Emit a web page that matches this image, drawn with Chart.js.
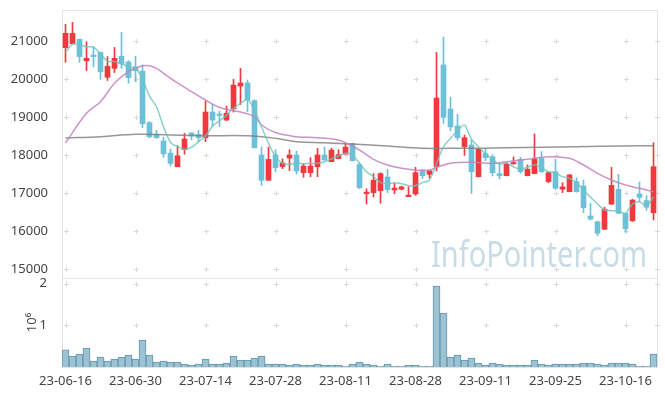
<!DOCTYPE html>
<html>
<head>
<meta charset="utf-8">
<script src="https://cdn.jsdelivr.net/npm/chart.js@4.4.1/dist/chart.umd.min.js"></script>
<style>
  html, body { margin: 0; padding: 0; background: #fff; }
  #wrap { width: 665px; height: 396px; }
</style>
</head>
<body>
<div id="wrap"><canvas id="chart"></canvas></div>
<script>
// trading days
const dates = [
  '23-06-16','23-06-19','23-06-20','23-06-21','23-06-22','23-06-23','23-06-26','23-06-27','23-06-28','23-06-29','23-06-30',
  '23-07-03','23-07-04','23-07-05','23-07-06','23-07-07','23-07-10','23-07-11','23-07-12','23-07-13','23-07-14',
  '23-07-17','23-07-18','23-07-19','23-07-20','23-07-21','23-07-24','23-07-25','23-07-26','23-07-27','23-07-28','23-07-31',
  '23-08-01','23-08-02','23-08-03','23-08-04','23-08-07','23-08-08','23-08-09','23-08-10','23-08-11','23-08-14',
  '23-08-16','23-08-17','23-08-18','23-08-21','23-08-22','23-08-23','23-08-24','23-08-25','23-08-28','23-08-29','23-08-30','23-08-31',
  '23-09-01','23-09-04','23-09-05','23-09-06','23-09-07','23-09-08','23-09-11','23-09-12','23-09-13','23-09-14','23-09-15',
  '23-09-18','23-09-19','23-09-20','23-09-21','23-09-22','23-09-25','23-09-26','23-09-27',
  '23-10-04','23-10-05','23-10-06','23-10-10','23-10-11','23-10-12','23-10-13','23-10-16','23-10-17','23-10-18','23-10-19','23-10-20'
]

const opens  = [20824,20930,21045,20480,20600,20700,20045,20280,20600,20450,20320,20210,18850,18545,18370,18050,17690,18140,18580,18545,
                18455,19130,19050,18920,19220,19815,19895,19430,18000,17335,18000,17695,17920,18000,17535,17535,17690,18000,17825,17905,
                18025,18300,17745,16985,17010,17063,17420,17080,17100,16905,16975,17570,17490,17690,20370,19210,18765,18220,18265,17430,
                18035,17955,17510,17455,17765,17885,17455,17510,17910,17300,17560,17100,17035,17300,17185,16395,16245,16045,16705,17095,
                16465,16270,16975,16800,16480]
const closes = [21203,21200,20590,20545,20590,20190,20335,20545,20395,20035,20220,18820,18480,18455,18030,17780,17980,18420,18500,18455,
                19130,18920,19040,19100,19840,19895,19450,18190,17335,17885,17665,17790,18000,17580,17710,17710,18000,17870,18130,18010,
                18210,17850,17140,17025,17335,17510,17090,17130,17160,16945,17535,17455,17580,19500,18990,18740,18455,18455,17560,18160,
                17930,17535,17455,17765,17800,17560,17625,17895,17560,17535,17125,17160,17475,17035,16615,16315,15940,16570,17200,16465,
                16060,16815,16885,16625,17690]
const highs  = [21440,21490,21050,20980,20850,20710,20590,20830,21230,20480,20600,20370,18880,18650,18470,18160,18245,18570,18590,18650,
                19420,19330,19150,19290,19990,20280,19975,19450,18210,18210,18140,17900,18140,18100,17780,17930,18175,18210,18180,18140,
                18310,18310,17800,17110,17510,17535,17620,17260,17180,17165,17675,17620,17590,20700,21100,19520,19070,18525,18395,18170,
                18150,18010,17780,17800,17950,17940,17740,18555,18090,17560,17885,17270,17490,17400,17340,16730,16260,16625,17675,17490,
                16470,16830,17290,16930,18325]
const lows   = [20440,20920,20440,20220,20320,19990,19960,20170,20280,19890,19930,18720,18450,18440,17940,17710,17690,18020,18400,18340,
                18350,18760,18750,18900,19130,19330,19140,18190,17200,17330,17560,17640,17590,17500,17415,17430,17430,17860,17820,17900,
                18020,17840,17110,16710,16895,16730,17010,16980,17080,16900,16940,17380,17390,17580,18830,18640,18395,17990,16990,17420,
                17850,17450,17370,17450,17760,17520,17450,17500,17540,17270,17095,17010,17030,17020,16480,16290,15875,16040,16700,16460,
                15965,16250,16770,16540,16290]

const volumes = [410000,264000,312000,456000,144000,240000,144000,192000,240000,288000,192000,648000,288000,120000,144000,120000,
                 120000,72000,48000,72000,192000,72000,72000,96000,264000,168000,168000,216000,264000,72000,72000,72000,48000,72000,
                 48000,48000,72000,48000,48000,48000,24000,72000,120000,72000,48000,24000,72000,24000,24000,48000,48000,24000,24000,
                 1944000,1296000,240000,288000,168000,216000,96000,48000,96000,72000,48000,48000,48000,48000,168000,72000,48000,72000,
                 72000,72000,72000,96000,96000,72000,48000,96000,96000,96000,72000,24000,24000,312000]

// moving averages
const ma5 = [20700,20920,20895,20850,20842,20660,20470,20460,20400,20320,20280,20000,19550,19271,18745,18330,18220,18150,18200,18350,
             18500,18760,18900,19050,19229,19360,19465,19184,18745,18307,17956,17780,17755,17780,17770,17780,17780,17824,17895,17974,
             18044,18000,17780,17561,17430,17272,17245,17272,17245,17193,17193,17272,17342,17780,18219,18440,18640,18790,18412,18219,
             18026,17886,17755,17790,17692,17623,17676,17745,17667,17561,17534,17430,17386,17272,17079,16887,16710,16553,16535,16527,
             16466,16710,16771,16658,16903]
const ma20Idx = [0,3,5,7,9,10,11,12,13,14,15,16,18,20,22,25,27,28,30,33,36,39,40,42,44,46,48,50,52,53,55,58,61,63,66,69,72,74,76,78,80,82,84]
const ma20Val = [18316,19097,19403,19887,20192,20282,20350,20350,20282,20150,20018,19900,19666,19447,19250,19130,19008,18790,18590,18482,
                 18455,18395,18320,18132,17886,17737,17650,17605,17605,17676,17780,17807,17780,17824,17886,17956,17912,17737,17518,17342,
                 17210,17123,17035]
const ma120Idx = [0,5,10,15,20,26,30,33,37,41,46,51,55,59,63,73,80,84]
const ma120Val = [18447,18482,18545,18526,18508,18505,18440,18350,18320,18290,18237,18176,18176,18176,18193,18219,18237,18246]

const xTicks = [0,10,20,30,40,50,60,70,80]
const priceTicks = [15000,16000,17000,18000,19000,20000,21000]
const volTicks = [1000000,2000000]

const UP = '#ee3a3e'
const DOWN = '#6cc0d8'
const candleColors = closes.map((c, i) => c >= opens[i] ? UP : DOWN)
const FONT = '"Noto Sans", "DejaVu Sans", sans-serif'

const gridMarks = {
  id: 'gridMarks',
  beforeDatasetsDraw(chart) {
    const {ctx, chartArea, scales} = chart
    const yp = scales.yp, yv = scales.yv, x = scales.x
    ctx.save()
    // watermark
    ctx.font = '37px "Noto Sans"'
    const w = ctx.measureText('InfoPointer.com').width
    ctx.fillStyle = '#c8dce6'
    ctx.translate(431, 267)
    ctx.scale(216 / w, 1)
    ctx.fillText('InfoPointer.com', 0, 0)
    ctx.setTransform(1, 0, 0, 1, 0, 0)
    // frame
    ctx.strokeStyle = '#e3e3e3'
    ctx.lineWidth = 1
    ctx.strokeRect(Math.round(chartArea.left) + 0.5, Math.round(chartArea.top) + 0.5,
      Math.round(chartArea.width), Math.round(chartArea.height))
    ctx.beginPath()
    ctx.moveTo(chartArea.left, Math.round(yp.bottom) + 0.5)
    ctx.lineTo(chartArea.right, Math.round(yp.bottom) + 0.5)
    ctx.stroke()
    // plus marks
    const xs = xTicks.map(v => x.getPixelForValue(v)).concat([chartArea.right])
    const ys = priceTicks.map(v => yp.getPixelForValue(v))
      .concat(volTicks.map(v => yv.getPixelForValue(v)))
    ctx.strokeStyle = '#dadada'
    ctx.beginPath()
    xs.forEach(px => {
      px = Math.round(px) + 0.5
      ys.forEach(py => {
        py = Math.round(py) + 0.5
        ctx.moveTo(px - 2.5, py); ctx.lineTo(px + 2.5, py)
        ctx.moveTo(px, py - 2.5); ctx.lineTo(px, py + 2.5)
      })
    })
    ctx.stroke()
    ctx.restore()
  }
}

const tickFont = { family: FONT, size: 13 }
const fitY = s => { s.width = 62; s.paddingTop = 0; s.paddingBottom = 0 }

new Chart('chart', {
  data: {
    datasets: [
      {
        type: 'line', label: 'MA5', yAxisID: 'yp', order: 0,
        data: ma5.map((v, i) => ({ x: i, y: v })),
        borderColor: 'rgba(110,196,186,0.8)', borderWidth: 1.5, pointRadius: 0, tension: 0.25
      },
      {
        type: 'line', label: 'MA20', yAxisID: 'yp', order: 0,
        data: ma20Idx.map((x, k) => ({ x, y: ma20Val[k] })),
        borderColor: 'rgba(196,128,192,0.85)', borderWidth: 1.5, pointRadius: 0, tension: 0.4
      },
      {
        type: 'line', label: 'MA120', yAxisID: 'yp', order: 0,
        data: ma120Idx.map((x, k) => ({ x, y: ma120Val[k] })),
        borderColor: 'rgba(125,125,125,0.8)', borderWidth: 1.5, pointRadius: 0, tension: 0.4
      },
      {
        type: 'bar', label: 'body', yAxisID: 'yp', order: 1, grouped: false,
        data: opens.map((o, i) => ({ x: i, y: [o, closes[i]] })),
        backgroundColor: candleColors, barThickness: 5, minBarLength: 1.5
      },
      {
        type: 'bar', label: 'wick', yAxisID: 'yp', order: 2, grouped: false,
        data: lows.map((l, i) => ({ x: i, y: [l, highs[i]] })),
        backgroundColor: candleColors, barThickness: 1
      },
      {
        type: 'bar', label: 'volume', yAxisID: 'yv', order: 3, grouped: false,
        data: volumes.map((v, i) => ({ x: i, y: v })),
        backgroundColor: '#9dc3d3', borderColor: '#6496ad', borderWidth: 1,
        barPercentage: 1, categoryPercentage: 1
      }
    ]
  },
  options: {
    responsive: true,
    maintainAspectRatio: false,
    animation: false,
    layout: { padding: { top: 10, right: 8, bottom: 0, left: 0 } },
    plugins: { legend: { display: false }, tooltip: { enabled: false } },
    scales: {
      x: {
        type: 'linear', min: -0.5, max: 84.5, offset: false,
        grid: { display: false }, border: { display: false },
        afterBuildTicks: s => { s.ticks = xTicks.map(v => ({ value: v })) },
        afterFit: s => { s.paddingLeft = 0; s.paddingRight = 0; s.height = 29 },
        ticks: { callback: v => dates[v], font: tickFont, color: '#444', padding: -2, maxRotation: 0, autoSkip: false }
      },
      yv: {
        type: 'linear', position: 'left', stack: 'main', stackWeight: 89,
        min: 0, max: 2137000,
        grid: { display: false }, border: { display: false },
        afterBuildTicks: s => { s.ticks = volTicks.map(v => ({ value: v })) },
        afterFit: fitY,
        ticks: { font: tickFont, color: '#444', padding: 7, callback: v => String(v / 1000000) },
        title: { display: true, text: '10⁶', font: tickFont, color: '#444', padding: { top: 24, bottom: 0 } }
      },
      yp: {
        type: 'linear', position: 'left', stack: 'main', stackWeight: 268,
        min: 14763, max: 21816,
        grid: { display: false }, border: { display: false },
        afterBuildTicks: s => { s.ticks = priceTicks.map(v => ({ value: v })) },
        afterFit: fitY,
        ticks: { font: tickFont, color: '#444', padding: 6, callback: v => String(v) }
      }
    }
  },
  plugins: [gridMarks]
})
</script>
</body>
</html>
